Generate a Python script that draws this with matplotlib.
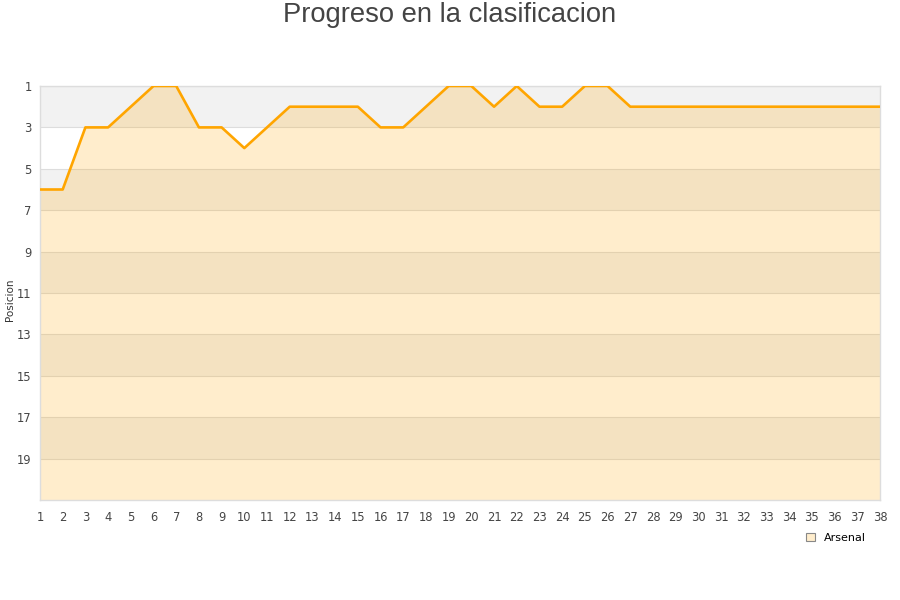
import matplotlib
matplotlib.use("Agg")
import matplotlib.pyplot as plt
import numpy as np

matchdays = list(range(1, 39))
positions = [6, 6, 3, 3, 2, 1, 1, 3, 3, 4, 3, 2, 2, 2, 2, 3, 3, 2, 1, 1,
             2, 1, 2, 2, 1, 1, 2, 2, 2, 2, 2, 2, 2, 2, 2, 2, 2, 2]
team = "Arsenal"
ytick_vals = [1, 3, 5, 7, 9, 11, 13, 15, 17, 19]

fig = plt.figure(figsize=(9, 6), dpi=100)
ax = fig.add_axes([40/900, 100/600, 840/900, 414/600])

ymin, ymax = 1, 21
# alternating background bands
for i, y0 in enumerate(range(1, 21, 2)):
    if i % 2 == 0:
        ax.axhspan(y0, y0 + 2, color="#f2f2f2", zorder=0, lw=0)
for y in ytick_vals:
    ax.axhline(y, color="#dddddd", lw=0.8, zorder=1)

ax.fill_between(matchdays, positions, ymax, color="#FFA500", alpha=0.2, lw=0, zorder=2, label=team)
ax.plot(matchdays, positions, color="#FFA500", lw=1.9, zorder=3)

ax.set_xlim(1, 38)
ax.set_ylim(ymax, ymin)
ax.set_xticks(matchdays)
ax.set_xticklabels([str(m) for m in matchdays])
ax.set_yticks(ytick_vals)
ax.tick_params(length=0, labelsize=8.3, colors="#444444", pad=8)
ax.tick_params(axis="y", pad=6)
for s in ax.spines.values():
    s.set_color("#dddddd")
    s.set_linewidth(1)

fig.text(10/900, 0.5, "Posicion", rotation=90, ha="center", va="center",
         fontsize=7.5, color="#333333")
fig.text(0.5, 0.997, "Progreso en la clasificacion", ha="center", va="top",
         fontsize=19.7, color="#444444", family="Liberation Sans")

leg = ax.legend(loc="upper right", bbox_to_anchor=(0.995, -0.055), frameon=False,
                fontsize=8, handlelength=0.8, handleheight=0.8, handletextpad=0.8)
for h in leg.legend_handles:
    h.set_edgecolor("#888888")
    h.set_linewidth(0.8)
    h.set_alpha(1)
    h.set_facecolor("#FFEDCC")

fig.savefig("out.png", dpi=100)
